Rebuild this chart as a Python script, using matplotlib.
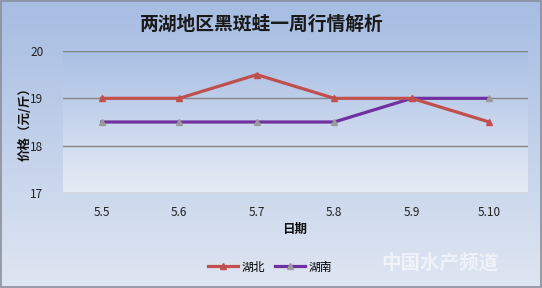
import numpy as np
import matplotlib.pyplot as plt
from matplotlib.colors import LinearSegmentedColormap

plt.rcParams['font.family'] = ['Noto Sans CJK SC', 'DejaVu Sans']

# 数据
dates = ['5.5', '5.6', '5.7', '5.8', '5.9', '5.10']
hubei = [19, 19, 19.5, 19, 19, 18.5]
hunan = [18.5, 18.5, 18.5, 18.5, 19, 19]

W, H = 542, 288
fig = plt.figure(figsize=(W / 100, H / 100), dpi=100)

# 整体背景渐变
bg = fig.add_axes([0, 0, 1, 1], zorder=0)
bg_cmap = LinearSegmentedColormap.from_list('bg', ['#a6bce2', '#dfe6f2'])
bg.imshow(np.linspace(0, 1, 256).reshape(-1, 1), aspect='auto', cmap=bg_cmap,
          extent=[0, 1, 0, 1])
bg.set_xlim(0, 1)
bg.set_ylim(0, 1)
bg.axis('off')
bg.add_patch(plt.Rectangle((0.001, 0.002), 0.997, 0.995, fill=False,
                           edgecolor='#8a8f99', linewidth=1.2))

# 绘图区
ax = fig.add_axes([63 / W, 1 - 193 / H, (528 - 63) / W, (193 - 51) / H], zorder=1)
ax.set_facecolor('none')
x = np.arange(len(dates))
ax.set_xlim(-0.5, len(dates) - 0.5)
ax.set_ylim(17, 20)
pa_cmap = LinearSegmentedColormap.from_list('pa', ['#e6ecf5', '#a9bfe4'])
ax.imshow(np.linspace(0, 1, 256).reshape(-1, 1), aspect='auto', cmap=pa_cmap,
          origin='lower', extent=[-0.5, len(dates) - 0.5, 17, 20], zorder=0)

ax.set_yticks([17, 18, 19, 20])
ax.grid(axis='y', color='#868686', linewidth=1, zorder=1)
for s in ax.spines.values():
    s.set_visible(False)
ax.tick_params(axis='both', length=0, labelsize=8.5, colors='#222222')
ax.tick_params(axis='y', pad=14)
ax.tick_params(axis='x', pad=9)
ax.set_xticks(x, dates)

ax.plot(x, hunan, color='#7030a0', linewidth=2.3, marker='^', markersize=5,
        markerfacecolor='#9a9a9a', markeredgecolor='#9a9a9a', label='湖南', zorder=3)
ax.plot(x, hubei, color='#c0504d', linewidth=2.3, marker='^', markersize=5,
        markerfacecolor='#c0504d', markeredgecolor='#c0504d', label='湖北', zorder=4)

# 标题与轴标签
fig.text(262 / W, 1 - 24 / H, '两湖地区黑斑蛙一周行情解析', ha='center', va='center',
         fontsize=13.5, fontweight='bold', color='#1a1a1a')
fig.text(25 / W, 1 - 121 / H, '价格（元/斤）', rotation=90, ha='center', va='center',
         fontsize=9, fontweight='bold', color='#111111')
fig.text(295 / W, 1 - 229 / H, '日期', ha='center', va='center',
         fontsize=9, fontweight='bold', color='#111111')

handles, labels = ax.get_legend_handles_labels()
leg = fig.legend(handles[::-1], labels[::-1], loc='center', ncol=2,
                 bbox_to_anchor=(270 / W, 1 - 267 / H), frameon=False,
                 fontsize=8.5, handlelength=2.6, columnspacing=0.8, handletextpad=0.3)

# 水印
fig.text(440 / W, 1 - 263 / H, '中国水产频道', ha='center', va='center',
         fontsize=14, fontweight='bold', color='white', alpha=0.6, style='italic')

fig.savefig('out.png', dpi=100)
